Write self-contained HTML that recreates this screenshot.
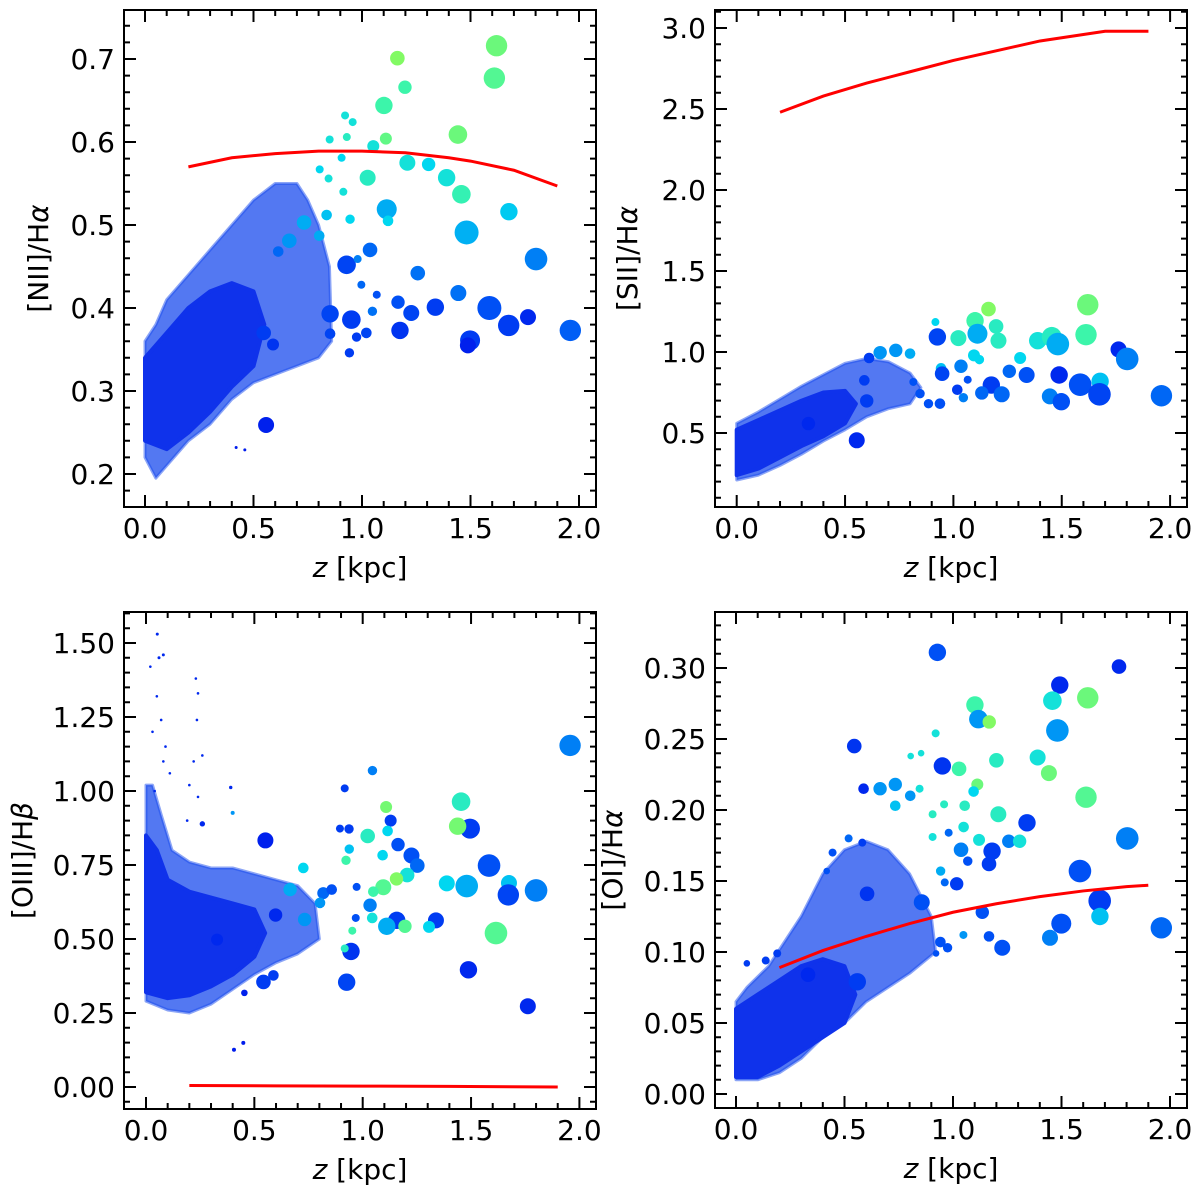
<!DOCTYPE html>
<html><head><meta charset="utf-8"><style>
html,body{margin:0;padding:0;background:#fff;}
svg{display:block;}
text{font-family:"DejaVu Sans","Liberation Sans",sans-serif;fill:#000;}
</style></head><body>
<svg id="fig" width="1200" height="1195" viewBox="0 0 1200 1195"></svg>
<script>
// ---------- DATA ----------
// points: [z kpc, ratio, marker radius, colour value 0..1]
const niiPoints=[[1.62,.716,10.7,.7],[1.61,.677,10.7,.65],[1.163,.701,7.3,.75],[1.198,.666,6.7,.6],[1.101,.644,8.7,.6],[1.442,.609,9.3,.7],[1.11,.604,6,.68],[1.052,.595,6,.5],[1.026,.557,8,.55],[1.209,.575,8,.5],[1.307,.573,6.7,.45],[1.39,.557,8.7,.5],[1.458,.537,9.3,.58],[1.114,.519,10,.35],[1.677,.516,8.7,.42],[1.482,.491,12,.36],[1.802,.459,11.3,.25],[1.037,.470,7.3,.2],[1.257,.442,7.3,.22],[.929,.452,9.3,.12],[1.444,.418,8,.22],[1.587,.400,12,.15],[1.338,.401,8.7,.1],[1.227,.394,8,.12],[1.166,.407,6.7,.15],[.951,.386,9.3,.1],[.853,.393,8.7,.12],[1.676,.379,10.7,.1],[1.765,.389,8,.05],[1.96,.373,10.7,.18],[1.175,.373,8.7,.08],[1.498,.361,10,.1],[1.488,.355,8,.03],[.558,.259,8,.03],[1.048,.396,4.7,.22],[1.02,.370,5.3,.12],[.975,.365,4.7,.1],[.942,.346,4.7,.1],[.853,.369,5.3,.12],[.547,.370,7.3,.1],[.59,.356,6,.08],[.665,.481,7.3,.3],[.733,.503,7.3,.35],[.837,.512,5.3,.4],[.803,.487,5.3,.35],[.945,.507,4.7,.45],[.914,.540,4,.5],[.846,.556,4,.5],[.805,.567,4,.45],[.93,.606,4,.55],[.922,.632,4,.5],[.957,.624,4,.5],[.851,.603,4,.5],[.906,.581,4,.45],[.614,.468,5.3,.2],[.98,.459,4,.25],[.997,.428,4,.2],[1.068,.416,4,.15],[1.12,.505,5.3,.45],[.42,.232,1.5,.02],[.46,.229,1.5,.02]];
const niiCloudOuter=[[0,.36],[.05,.38],[.1,.41],[.2,.44],[.3,.47],[.4,.50],[.5,.53],[.6,.55],[.7,.55],[.75,.53],[.8,.50],[.85,.45],[.86,.36],[.8,.34],[.7,.33],[.6,.32],[.5,.31],[.4,.29],[.3,.26],[.2,.24],[.1,.21],[.05,.195],[0,.22]];
const niiCloudCore=[[0,.34],[.1,.37],[.2,.40],[.3,.42],[.4,.43],[.5,.42],[.55,.38],[.5,.33],[.4,.305],[.3,.275],[.2,.25],[.1,.23],[0,.24]];
const niiModelZ=[.2,.4,.6,.8,1.0,1.2,1.4,1.5,1.7,1.9];
const niiModelR=[.570,.581,.586,.589,.589,.587,.581,.577,.566,.547];

const siiPoints=[[1.62,1.292,10.7,.7],[1.162,1.265,7.3,.75],[1.1,1.193,8.7,.6],[1.197,1.158,7.3,.55],[1.612,1.107,10.7,.6],[1.208,1.07,8,.55],[1.111,1.113,10,.35],[1.023,1.086,8,.55],[.926,1.093,8.7,.12],[1.389,1.07,8.7,.5],[1.454,1.093,10,.55],[1.482,1.049,11.3,.35],[1.762,1.016,8,.05],[1.802,.957,11.3,.25],[1.308,.963,6,.45],[1.095,.979,6,.45],[1.12,.953,4.7,.45],[.917,1.185,4,.45],[.662,.996,6.7,.3],[.734,1.01,6.7,.3],[.8,.99,5.3,.35],[1.035,.912,6.7,.25],[.943,.899,5.3,.4],[.948,.866,7.3,.12],[1.258,.881,6.7,.2],[1.338,.858,8,.15],[1.488,.858,8.7,.05],[1.175,.796,8.7,.1],[1.585,.798,11.3,.15],[1.677,.819,8.7,.4],[1.674,.739,11.3,.12],[1.223,.739,8,.2],[1.131,.747,6.7,.2],[1.445,.726,8,.25],[1.498,.693,8.7,.15],[1.96,.73,10.7,.2],[1.046,.718,4.7,.25],[1.018,.767,5.3,.1],[1.066,.829,4,.15],[.938,.681,5.3,.15],[.554,.455,8,.05],[.589,.825,5.3,.1],[.6,.698,6.7,.1],[.331,.558,6.7,.05],[.846,.743,4.7,.15],[.885,.681,4.7,.15],[.815,.815,4,.15],[.611,.963,5.3,.1]];
const siiCloudOuter=[[0,.56],[.1,.63],[.2,.71],[.3,.79],[.4,.86],[.5,.93],[.6,.96],[.7,.94],[.8,.87],[.85,.78],[.8,.68],[.7,.65],[.6,.60],[.5,.52],[.4,.45],[.3,.37],[.2,.30],[.1,.24],[0,.21]];
const siiCloudCore=[[0,.52],[.1,.58],[.2,.64],[.3,.70],[.4,.75],[.5,.76],[.55,.68],[.5,.56],[.4,.48],[.3,.42],[.2,.35],[.1,.28],[0,.24]];
const siiModelZ=[.2,.4,.6,.8,1.0,1.2,1.4,1.6,1.7,1.9];
const siiModelR=[2.48,2.58,2.66,2.73,2.80,2.86,2.92,2.96,2.98,2.98];

const oiiiPoints=[[1.957,1.154,10.7,.25],[1.045,1.069,4.7,.25],[.917,1.009,4,.1],[1.454,.964,9.3,.55],[1.108,.946,6,.72],[1.129,.900,6,.1],[1.495,.873,10,.1],[1.438,.881,8.7,.72],[.895,.873,4,.1],[.937,.872,4.7,.1],[1.023,.848,7.3,.55],[1.115,.865,5.3,.45],[.551,.833,8,.03],[.938,.804,4.7,.4],[1.163,.819,6.7,.15],[1.225,.782,8,.15],[1.092,.783,5.3,.45],[1.252,.748,7.3,.2],[1.583,.748,11.3,.15],[1.205,.716,7.3,.5],[1.156,.703,6.7,.75],[1.095,.675,8,.65],[1.388,.688,8,.45],[1.48,.679,11.3,.35],[1.675,.689,8,.4],[1.8,.664,11.3,.25],[1.672,.649,10.7,.12],[1.049,.660,5.3,.6],[1.034,.614,6.7,.25],[.923,.766,4.7,.6],[.972,.676,4,.15],[1.157,.563,8.7,.1],[1.338,.563,8,.1],[1.111,.543,8.7,.35],[1.195,.543,6.7,.65],[1.306,.541,6,.45],[1.615,.520,11.3,.65],[1.044,.571,5.3,.5],[.968,.571,4,.15],[.952,.528,4,.6],[.946,.458,8.7,.08],[.917,.468,4,.55],[1.488,.396,8.7,.05],[.926,.354,8.7,.12],[1.762,.273,8,.05],[.598,.581,6.7,.05],[.542,.355,7.3,.1],[.588,.377,5.3,.1],[.328,.498,6,.05],[.454,.318,3.3,.03],[.406,.126,2,.02],[.449,.149,2,.02],[.726,.740,5.3,.45],[.665,.667,6.7,.35],[.732,.566,6.7,.3],[.818,.655,6,.2],[.857,.667,5.3,.15],[.803,.622,5.3,.3],[.26,.889,2.7,.05],[.4,.926,2,.3],[.391,1.012,1.7,.05],[.052,1.53,1.5,.05],[.06,1.45,1.5,.05],[.08,1.46,1.5,.05],[.02,1.42,1.3,.05],[.05,1.32,1.3,.05],[.07,1.24,1.3,.05],[.03,1.2,1.3,.05],[.09,1.15,1.3,.05],[.08,1.1,1.3,.05],[.11,1.06,1.3,.05],[.04,1.0,1.3,.05],[.23,1.38,1.3,.05],[.24,1.33,1.3,.05],[.235,1.24,1.3,.05],[.26,1.12,1.3,.05],[.22,1.1,1.3,.05],[.2,1.02,1.3,.05],[.24,.98,1.3,.05],[.19,.9,1.3,.05]];
const oiiiCloudOuter=[[0,1.02],[.03,1.02],[.07,.92],[.12,.80],[.2,.76],[.3,.74],[.4,.74],[.5,.72],[.6,.70],[.7,.68],[.78,.62],[.8,.50],[.7,.45],[.6,.42],[.5,.38],[.4,.33],[.3,.28],[.2,.25],[.1,.26],[0,.29]];
const oiiiCloudCore=[[0,.85],[.05,.80],[.1,.70],[.2,.66],[.3,.64],[.4,.62],[.5,.60],[.55,.52],[.5,.44],[.4,.38],[.3,.34],[.2,.31],[.1,.30],[0,.32]];
const oiiiModelZ=[.2,.6,1.0,1.4,1.9];
const oiiiModelR=[.005,.004,.003,.002,.0];

const oiPoints=[[.928,.311,8.7,.15],[1.765,.301,7.3,.05],[1.492,.288,8.7,.05],[1.458,.277,9.3,.5],[1.621,.279,10.7,.7],[1.101,.274,8.7,.6],[1.117,.264,9.3,.3],[1.167,.262,6.7,.75],[1.481,.256,11.3,.3],[.92,.254,4,.5],[.545,.245,7.3,.08],[1.39,.237,8,.5],[1.2,.235,7.3,.55],[.951,.231,8.7,.08],[1.028,.229,7.3,.6],[1.442,.226,8,.7],[1.112,.218,6,.7],[1.095,.213,5.3,.45],[1.613,.209,10.7,.65],[.805,.238,3.3,.5],[.853,.240,3.3,.5],[.846,.215,4,.5],[.588,.215,5.3,.05],[.664,.215,6.7,.3],[.734,.218,6.7,.3],[.803,.210,5.3,.3],[.734,.203,5.3,.4],[.959,.204,4,.55],[1.054,.203,5.3,.55],[1.209,.197,8,.55],[1.341,.191,8.7,.1],[1.049,.188,5.3,.5],[.906,.197,4,.55],[.98,.184,4,.2],[1.803,.180,11.3,.25],[.906,.181,4,.5],[1.12,.179,6,.5],[1.257,.178,6.7,.25],[1.307,.178,6.7,.5],[1.037,.172,7.3,.25],[1.18,.171,8.7,.1],[1.166,.162,7.3,.1],[1.068,.164,4.7,.15],[1.585,.157,11.3,.15],[.943,.157,4.7,.35],[.962,.149,4,.2],[1.017,.148,6.7,.1],[.604,.141,7.3,.08],[.856,.135,8,.15],[1.676,.136,11.3,.1],[1.135,.128,6.7,.15],[1.677,.125,8.7,.4],[1.499,.120,10,.15],[1.166,.111,5.3,.15],[1.048,.112,4,.3],[1.447,.110,8,.25],[1.96,.117,10.7,.2],[1.227,.103,8,.15],[.942,.107,5.3,.15],[.975,.103,4.7,.15],[.922,.099,3.3,.15],[.559,.079,8.7,.1],[.332,.084,7.3,.05],[.137,.094,4,.1],[.19,.099,4,.1],[.05,.092,3.3,.1],[.519,.180,4,.2],[.582,.177,4,.1],[.445,.170,4,.15],[.418,.157,3.3,.15]];
const oiCloudOuter=[[0,.065],[.05,.075],[.15,.09],[.3,.125],[.4,.155],[.5,.172],[.6,.178],[.7,.172],[.8,.155],[.9,.125],[.92,.10],[.8,.085],[.7,.075],[.6,.065],[.5,.05],[.4,.04],[.3,.025],[.2,.015],[.1,.01],[0,.01]];
const oiCloudCore=[[0,.06],[.1,.07],[.2,.08],[.3,.09],[.4,.095],[.5,.09],[.55,.07],[.5,.05],[.4,.04],[.3,.03],[.2,.02],[.1,.012],[0,.012]];
const oiModelZ=[.2,.4,.6,.8,1.0,1.2,1.4,1.6,1.8,1.9];
const oiModelR=[.089,.101,.111,.120,.128,.134,.139,.143,.146,.147];

const xTickLabels=["0.0","0.5","1.0","1.5","2.0"];
const niiTicks=[.2,.3,.4,.5,.6,.7];
const siiTicks=[.5,1.0,1.5,2.0,2.5,3.0];
const oiiiTicks=[0,.25,.5,.75,1.0,1.25,1.5];
const oiTicks=[0,.05,.1,.15,.2,.25,.3];

// ---------- RENDER ----------
const NS="http://www.w3.org/2000/svg";
const svg=document.getElementById('fig');
function mk(tag,attrs,parent){const e=document.createElementNS(NS,tag);for(const k in attrs)e.setAttribute(k,attrs[k]);(parent||svg).appendChild(e);return e;}
const stops=[[0,[0,20,235]],[.15,[0,80,245]],[.3,[0,150,245]],[.45,[0,215,240]],[.6,[60,245,170]],[.75,[130,250,100]],[1,[200,250,40]]];
function cmap(c){for(let i=1;i<stops.length;i++){if(c<=stops[i][0]){const a=stops[i-1],b=stops[i],t=(c-a[0])/(b[0]-a[0]);const col=a[1].map((v,j)=>Math.round(v+(b[1][j]-v)*t));return `rgb(${col.join(',')})`;}}return 'rgb(200,250,40)';}

function panel(cfg){
  const g=mk('g',{});
  
  
  const X=v=>cfg.x0+v*cfg.xs, Y=v=>cfg.y0-v*cfg.ys;
  const clip='clip-'+cfg.name;
  const cp=mk('clipPath',{id:clip},g);mk('rect',{x:cfg.L,y:cfg.T,width:cfg.R-cfg.L,height:cfg.B-cfg.T},cp);
  const dg=mk('g',{'clip-path':`url(#${clip})`},g);
  const po=mk('polygon',{points:cfg.outer.map(p=>X(p[0])+','+Y(p[1])).join(' '),fill:'rgb(25,75,238)','fill-opacity':'0.75','stroke':'rgb(25,75,238)','stroke-opacity':'0.5','stroke-width':3,'stroke-linejoin':'round'},dg);
  
  
  const pc=mk('polygon',{points:cfg.core.map(p=>X(p[0])+','+Y(p[1])).join(' '),fill:'rgb(15,50,235)','stroke':'rgb(15,50,235)','stroke-width':4,'stroke-linejoin':'round'},dg);
  
  
  cfg.pts.forEach(p=>{
    const c=mk('circle',{cx:X(p[0]),cy:Y(p[1]),r:p[2],fill:cmap(p[3])},dg);
    
    
  });
  const ln=mk('polyline',{points:cfg.mz.map((z,i)=>X(z)+','+Y(cfg.mr[i])).join(' '),fill:'none',stroke:'#ff0000','stroke-width':3},dg);
  
  
  const fr=mk('rect',{x:cfg.L,y:cfg.T,width:cfg.R-cfg.L,height:cfg.B-cfg.T,fill:'none',stroke:'#000','stroke-width':2},g);
  
  
  let d='';
  for(let k=-1;k<=21;k++){const v=k/10;const px=X(v);if(px<cfg.L+1||px>cfg.R-1)continue;const len=(k%5===0)?12:6;d+=`M${px},${cfg.B}v${-len}M${px},${cfg.T}v${len}`;}
  xTickLabels.forEach((lab,i)=>{const t=mk('text',{x:X(i*0.5),y:cfg.B+31,'font-size':28,'text-anchor':'middle'},g);t.textContent=lab;});
  const vTop=(cfg.y0-cfg.T)/cfg.ys, vBot=(cfg.y0-cfg.B)/cfg.ys;
  for(let v=Math.floor(vBot/cfg.minor)*cfg.minor;v<=vTop+1e-9;v+=cfg.minor){const py=Y(v);if(py<cfg.T+1||py>cfg.B-1)continue;const isMaj=Math.abs(v/cfg.major-Math.round(v/cfg.major))<1e-6;const len=isMaj?12:6;d+=`M${cfg.L},${py}h${len}M${cfg.R},${py}h${-len}`;}
  const tk=mk('path',{d:d,stroke:'#000','stroke-width':2,fill:'none'},g);
  
  
  cfg.yt.forEach(v=>{const t=mk('text',{x:cfg.L-9,y:Y(v)+10,'font-size':28,'text-anchor':'end'},g);t.textContent=v.toFixed(cfg.dec);});
  const xt=mk('text',{x:(cfg.L+cfg.R)/2,y:cfg.B+70,'font-size':28,'text-anchor':'middle'},g);
  xt.innerHTML='<tspan font-style="italic">z</tspan> [kpc]';
  
  
  const cy=(cfg.T+cfg.B)/2;
  const yt=mk('text',{x:cfg.ytx,y:cy,'font-size':28,'text-anchor':'middle',transform:`rotate(-90 ${cfg.ytx} ${cy})`},g);
  yt.innerHTML=cfg.ylab;
  
  
}

panel({name:'nii-panel',L:124,R:596,T:10,B:507,x0:145,xs:217,y0:59+0.7*830,ys:830,major:.1,minor:.02,yt:niiTicks,dec:1,pts:niiPoints,outer:niiCloudOuter,core:niiCloudCore,mz:niiModelZ,mr:niiModelR,ytx:48,ylab:'[NII]/H<tspan font-style="italic">α</tspan>'});
panel({name:'sii-panel',L:715,R:1187,T:10,B:507,x0:736.7,xs:216.7,y0:433+0.5*162,ys:162,major:.5,minor:.1,yt:siiTicks,dec:1,pts:siiPoints,outer:siiCloudOuter,core:siiCloudCore,mz:siiModelZ,mr:siiModelR,ytx:637,ylab:'[SII]/H<tspan font-style="italic">α</tspan>'});
panel({name:'oiii-panel',L:124,R:596,T:612,B:1109,x0:146,xs:216.7,y0:1087,ys:296,major:.25,minor:.05,yt:oiiiTicks,dec:2,pts:oiiiPoints,outer:oiiiCloudOuter,core:oiiiCloudCore,mz:oiiiModelZ,mr:oiiiModelR,ytx:32,ylab:'[OIII]/H<tspan font-style="italic">β</tspan>'});
panel({name:'oi-panel',L:715,R:1187,T:612,B:1108,x0:736,xs:217,y0:1094,ys:1420,major:.05,minor:.01,yt:oiTicks,dec:2,pts:oiPoints,outer:oiCloudOuter,core:oiCloudCore,mz:oiModelZ,mr:oiModelR,ytx:622,ylab:'[OI]/H<tspan font-style="italic">α</tspan>'});
</script>
</body></html>
